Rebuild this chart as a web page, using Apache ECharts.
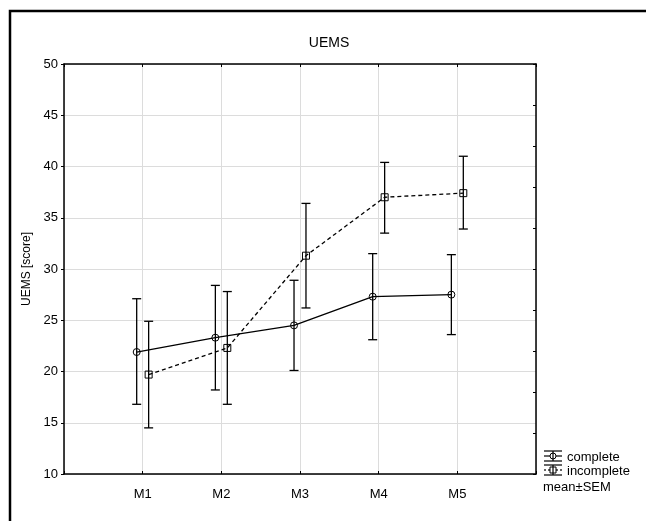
<!DOCTYPE html>
<html><head><meta charset="utf-8">
<script src="https://cdn.jsdelivr.net/npm/echarts@6/dist/echarts.min.js"></script>
<style>html,body{margin:0;padding:0;background:#fff}#c{width:646px;height:521px}</style>
</head><body><div id="c"></div>
<script>
var categories = ['M1','M2','M3','M4','M5'];
var completeMean = [21.9, 23.3, 24.5, 27.3, 27.5];
var completeLow  = [16.8, 18.2, 20.1, 23.1, 23.6];
var completeHigh = [27.1, 28.4, 28.9, 31.5, 31.4];
var incompleteMean = [19.7, 22.3, 31.3, 37.0, 37.4];
var incompleteLow  = [14.5, 16.8, 26.2, 33.5, 33.9];
var incompleteHigh = [24.9, 27.8, 36.4, 40.4, 41.0];
var yTicks = [10, 15, 20, 25, 30, 35, 40, 45, 50];

var FONT = 'Liberation Sans, Arial, sans-serif';
var OFF = 0.076;
function pts(mean, off){ return mean.map(function(v,i){ return [i+1+off, v]; }); }
function bars(low, high, off){ return low.map(function(v,i){ return [i+1+off, v, high[i]]; }); }

function errRender(params, api){
  var x = api.value(0);
  var lo = api.coord([x, api.value(1)]);
  var hi = api.coord([x, api.value(2)]);
  var w = 4.5;
  var st = {stroke:'#000', lineWidth:1.3};
  return {type:'group', children:[
    {type:'line', shape:{x1:lo[0],y1:lo[1],x2:hi[0],y2:hi[1]}, style:st},
    {type:'line', shape:{x1:lo[0]-w,y1:lo[1],x2:lo[0]+w,y2:lo[1]}, style:st},
    {type:'line', shape:{x1:hi[0]-w,y1:hi[1],x2:hi[0]+w,y2:hi[1]}, style:st}
  ]};
}

var chart = echarts.init(document.getElementById('c'), null, {renderer:'canvas'});
var axisLine = {show:true, onZero:false, lineStyle:{color:'#000', width:1.5}};
function legendIcon(y, dashed, sym){
  var st = {stroke:'#000', lineWidth:1.2};
  var els = [
    {type:'line', shape:{x1:544,y1:y-5,x2:562,y2:y-5}, style:st},
    {type:'line', shape:{x1:544,y1:y+5,x2:562,y2:y+5}, style:st},
    {type:'line', shape:{x1:553,y1:y-5,x2:553,y2:y+5}, style:st},
    {type:'line', shape:{x1:544,y1:y,x2:562,y2:y}, style:{stroke:'#000', lineWidth:1.2, lineDash: dashed ? [2,2] : null}}
  ];
  if (sym === 'circle') els.push({type:'circle', shape:{cx:553, cy:y, r:3}, style:{fill:'#fff', stroke:'#000', lineWidth:1}});
  else els.push({type:'rect', shape:{x:550, y:y-3, width:6, height:6}, style:{fill:'#fff', stroke:'#000', lineWidth:1}});
  els.push({type:'line', shape:{x1:553,y1:y-3,x2:553,y2:y+3}, style:st});
  return els;
}
var graphics = [
  {type:'rect', shape:{x:10, y:11, width:700, height:600}, style:{fill:'none', stroke:'#000', lineWidth:2.5}, z:100},
  {type:'text', x:329, y:43, style:{text:'UEMS', font:'14px ' + FONT, fill:'#000', textAlign:'center', textVerticalAlign:'middle'}},
  {type:'text', x:567, y:457, style:{text:'complete', font:'13px ' + FONT, fill:'#000', textVerticalAlign:'middle'}},
  {type:'text', x:567, y:471, style:{text:'incomplete', font:'13px ' + FONT, fill:'#000', textVerticalAlign:'middle'}},
  {type:'text', x:543, y:487, style:{text:'mean\u00b1SEM', font:'13px ' + FONT, fill:'#000', textVerticalAlign:'middle'}}
].concat(legendIcon(456, false, 'circle')).concat(legendIcon(470, true, 'rect'));

chart.setOption({
  animation:false,
  backgroundColor:'#fff',
  textStyle:{fontFamily:FONT},
  grid:{left:64, top:64, right:110, bottom:47, show:false},
  graphic: graphics,
  xAxis:[
    {type:'value', position:'bottom', min:0, max:6, interval:1,
     axisLine:axisLine, axisTick:{show:true, inside:true, length:3, lineStyle:{color:'#000'}},
     axisLabel:{color:'#000', fontSize:13, fontFamily:FONT, margin:14,
       formatter:function(v){ return categories[v-1] || ''; }},
     splitLine:{show:true, lineStyle:{color:'#dcdcdc', width:1}}},
    {type:'value', position:'top', min:0, max:6, interval:1,
     axisLine:axisLine, axisTick:{show:true, inside:true, length:3, lineStyle:{color:'#000'}},
     axisLabel:{show:false}, splitLine:{show:false}}
  ],
  yAxis:[
    {type:'value', position:'left', min:yTicks[0], max:yTicks[yTicks.length-1], interval:5,
     name:'UEMS [score]', nameLocation:'middle', nameGap:31, nameRotate:90,
     nameTextStyle:{color:'#000', fontSize:12, fontFamily:FONT},
     axisLine:axisLine, axisTick:{show:true, inside:false, length:3, lineStyle:{color:'#000'}},
     axisLabel:{color:'#000', fontSize:13, fontFamily:FONT, margin:6},
     splitLine:{show:true, lineStyle:{color:'#dcdcdc', width:1}}},
    {type:'value', position:'right', min:10, max:50, interval:4,
     axisLine:axisLine, axisTick:{show:true, inside:true, length:3, lineStyle:{color:'#000'}},
     axisLabel:{show:false}, splitLine:{show:false}}
  ],
  series:[
    {name:'complete', type:'line', xAxisIndex:0, yAxisIndex:0, data:pts(completeMean, -OFF),
     symbol:'circle', symbolSize:7, showSymbol:true,
     lineStyle:{color:'#000', width:1.3, type:'solid'},
     itemStyle:{color:'rgba(255,255,255,0)', borderColor:'#000', borderWidth:1}, z:3},
    {name:'incomplete', type:'line', xAxisIndex:0, yAxisIndex:0, data:pts(incompleteMean, OFF),
     symbol:'rect', symbolSize:7, showSymbol:true,
     lineStyle:{color:'#000', width:1.3, type:[4,3]},
     itemStyle:{color:'rgba(255,255,255,0)', borderColor:'#000', borderWidth:1}, z:3},
    {type:'custom', xAxisIndex:0, yAxisIndex:0, renderItem:errRender, data:bars(completeLow, completeHigh, -OFF), z:4},
    {type:'custom', xAxisIndex:0, yAxisIndex:0, renderItem:errRender, data:bars(incompleteLow, incompleteHigh, OFF), z:4}
  ]
});
</script></body></html>
